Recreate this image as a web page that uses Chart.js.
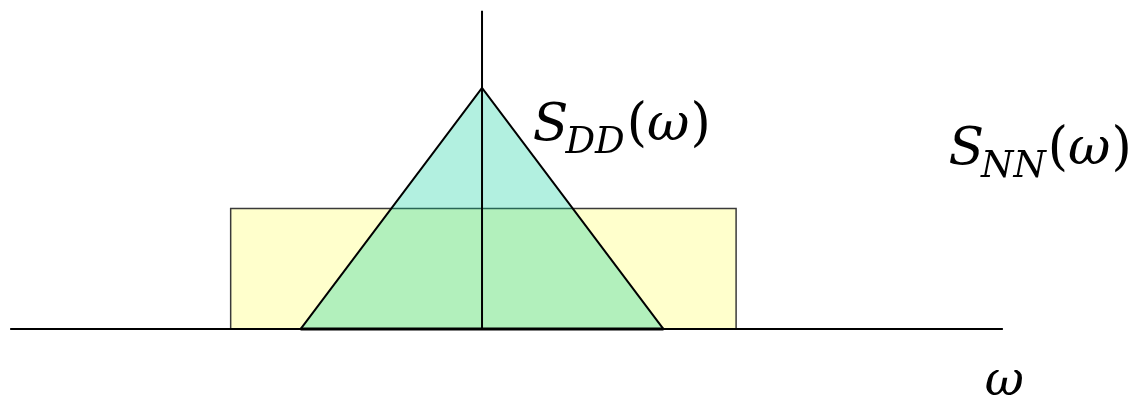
<!DOCTYPE html>
<html>
<head>
<meta charset="utf-8">
<script src="https://cdn.jsdelivr.net/npm/chart.js@4"></script>
<style>
  body { margin: 0; background: #fff; }
  canvas { display: block; }
</style>
</head>
<body>
<canvas id="spectra" width="1135" height="397"></canvas>
<script>
// shapes in omega units (triangle half width = 1, triangle peak = 1)
const noiseX = [-1.385, -1.385, 1.4, 1.4];
const noiseY = [0, 0.5, 0.5, 0];
const signalX = [-1, 0, 1];
const signalY = [0, 1, 0];
const baseX = [-1, 1];
const baseY = [0, 0];
const omegaAxisX = [-2.6, 2.87];
const omegaAxisY = [0, 0];
const psdAxisX = [0, 0];
const psdAxisY = [0, 1.32];

// where the text labels sit (data units)
const labelNames = ['SDD', 'SNN', 'omega'];
const labelX = [0.28, 2.57, 2.77];
const labelY = [0.784, 0.685, -0.274];

function pts(xs, ys) {
    return xs.map((x, i) => ({ x: x, y: ys[i] }));
}

const FONT = '"DejaVu Serif", "Liberation Serif", serif';

// draws S_sub(ω) starting at x, baseline y
function drawSpectrumLabel(ctx, sub, x, y) {
    let big = 52, small = 37;
    ctx.textBaseline = 'alphabetic';
    ctx.textAlign = 'left';
    ctx.fillStyle = '#000';
    ctx.font = 'italic ' + big + 'px ' + FONT;
    ctx.fillText('S', x, y);
    x += ctx.measureText('S').width - 3;
    ctx.font = 'italic ' + small + 'px ' + FONT;
    ctx.fillText(sub, x, y + 13);
    x += ctx.measureText(sub).width + 2;
    ctx.font = big + 'px ' + FONT;
    ctx.fillText('(', x, y);
    x += ctx.measureText('(').width;
    ctx.font = 'italic ' + big + 'px ' + FONT;
    ctx.fillText('ω', x, y);
    x += ctx.measureText('ω').width + 1;
    ctx.font = big + 'px ' + FONT;
    ctx.fillText(')', x, y);
}

const labelPlugin = {
    id: 'labels',
    afterDraw(c) {
        const ctx = c.ctx;
        const xs = c.scales.x, ys = c.scales.y;
        ctx.save();
        labelNames.forEach((name, i) => {
            let px = xs.getPixelForValue(labelX[i]);
            let py = ys.getPixelForValue(labelY[i]);
            if (name === 'SDD') drawSpectrumLabel(ctx, 'DD', px, py);
            else if (name === 'SNN') drawSpectrumLabel(ctx, 'NN', px, py);
            else {
                ctx.font = 'italic 48px ' + FONT;
                ctx.fillStyle = '#000';
                ctx.textAlign = 'left';
                ctx.textBaseline = 'alphabetic';
                ctx.fillText('ω', px, py);
            }
        });
        ctx.restore();
    }
};

const chart = new Chart(document.getElementById('spectra').getContext('2d'), {
    type: 'line',
    data: {
        datasets: [
            {
                label: 'omega axis',
                data: pts(omegaAxisX, omegaAxisY),
                borderColor: '#000',
                borderWidth: 2,
                fill: false,
                order: 1
            },
            {
                label: 'psd axis',
                data: pts(psdAxisX, psdAxisY),
                borderColor: '#000',
                borderWidth: 2,
                fill: false,
                order: 1
            },
            {
                label: 'triangle base',
                data: pts(baseX, baseY),
                borderColor: '#000',
                borderWidth: 3,
                fill: false,
                order: 1
            },
            {
                label: 'S_DD',
                data: pts(signalX, signalY),
                borderColor: '#000',
                borderWidth: 2,
                backgroundColor: 'rgba(0, 204, 153, 0.3)',
                fill: 'origin',
                order: 2
            },
            {
                label: 'S_NN',
                data: pts(noiseX, noiseY),
                borderColor: '#3a3a3a',
                borderWidth: 1.5,
                backgroundColor: '#ffffcc',
                fill: 'origin',
                order: 3
            }
        ]
    },
    options: {
        responsive: false,
        animation: false,
        layout: { padding: 0 },
        elements: {
            point: { radius: 0 },
            line: { tension: 0, borderJoinStyle: 'miter' }
        },
        scales: {
            x: { type: 'linear', display: false, min: -2.656, max: 3.598 },
            y: { type: 'linear', display: false, min: -0.282, max: 1.365 }
        },
        plugins: {
            legend: { display: false },
            tooltip: { enabled: false },
            filler: { propagate: false }
        }
    },
    plugins: [labelPlugin]
});
</script>
</body>
</html>
